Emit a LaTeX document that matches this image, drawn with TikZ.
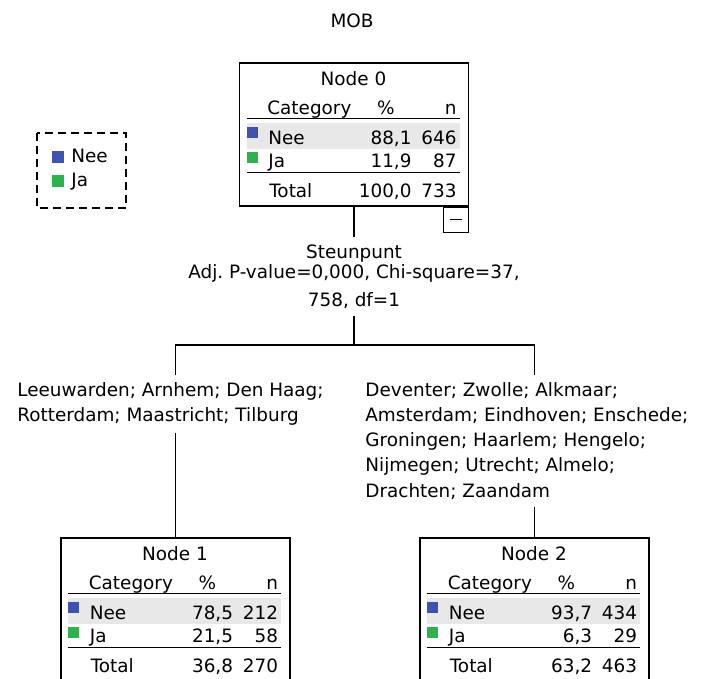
\documentclass[tikz,border=0pt]{standalone}
\usepackage{fontspec}
\setmainfont{DejaVu Sans}
\frenchspacing
\definecolor{neeblue}{RGB}{62,82,178}
\definecolor{jagreen}{RGB}{46,178,76}
\definecolor{rowgray}{RGB}{232,232,232}

\tikzset{
  txt/.style={font=\fontsize{9.2}{12.6}\selectfont, inner sep=0pt},
  catbox/.style={draw, line width=0.55pt, minimum width=114.5pt, minimum height=71.5pt, inner sep=0pt},
  togglebox/.style={draw, line width=0.55pt, minimum size=12.5pt, inner sep=0pt},
  rule/.style={line width=0.8pt},
  link/.style={line width=0.65pt},
  legendframe/.style={line width=0.7pt, dash pattern=on 4pt off 2.5pt},
}

% one tree node: name, centre, title, Nee %, Nee n, Ja %, Ja n, total %, total n
\newcommand{\mobnode}[9]{%
  \node[catbox] (#1) at #2 {};
  \begin{scope}[shift={(#1.north west)}]
    \fill[rowgray] (8,61) rectangle (221,87);
    \draw[rule] (8,56) -- (221,56);
    \draw[rule] (8,110) -- (221,110);
    \fill[neeblue] (8,65) rectangle (19,76);
    \fill[jagreen] (8,90) rectangle (19,101);
    \node[txt,anchor=base] (#1-title) at (114.5,23) {#3};
    \node[txt,anchor=base west] (#1-cat) at (28,52) {Category};
    \node[txt,anchor=base] (#1-pct) at (147,52) {\%};
    \node[txt,anchor=base east] (#1-n) at (218,52) {n};
    \node[txt,anchor=base west] (#1-nee) at (29,82) {Nee};
    \node[txt,anchor=base east] (#1-neepct) at (173,82) {#4};
    \node[txt,anchor=base east] (#1-neen) at (218,82) {#5};
    \node[txt,anchor=base west] (#1-ja) at (29,105) {Ja};
    \node[txt,anchor=base east] (#1-japct) at (173,105) {#6};
    \node[txt,anchor=base east] (#1-jan) at (218,105) {#7};
    \node[txt,anchor=base west] (#1-tot) at (30,135) {Total};
    \node[txt,anchor=base east] (#1-totpct) at (173,135) {#8};
    \node[txt,anchor=base east] (#1-totn) at (218,135) {#9};
  \end{scope}}

\begin{document}
\begin{tikzpicture}[x=0.5pt,y=-0.5pt]
\useasboundingbox (0,0) rectangle (704,678);

\node[txt,anchor=base] (title) at (352,28) {MOB};

% legend
\draw[legendframe] (37,133) rectangle (126,208);
\fill[neeblue] (52,151) rectangle (64,163);
\fill[jagreen] (52,175) rectangle (64,187);
\node[txt,anchor=base west] (leg-nee) at (71,163) {Nee};
\node[txt,anchor=base west] (leg-ja) at (71,187) {Ja};

% root node and its split
\mobnode{n0}{(354,134.5)}{Node 0}{88,1}{646}{11,9}{87}{100,0}{733}
\node[togglebox,anchor=north east] (toggle) at (n0.south east) {};
\draw[rule] ([xshift=-3.2pt]toggle.center) -- ([xshift=3.2pt]toggle.center);

\node[txt,align=center,anchor=north,inner sep=3.5pt] (split) at (354,237)
  {Steunpunt\\[-2.6pt]Adj. P-value=0,000, Chi-square=37,\\[1.4pt]758, df=1};

% child nodes
\mobnode{n1}{(175.5,609.5)}{Node 1}{78,5}{212}{21,5}{58}{36,8}{270}
\mobnode{n2}{(534.5,609.5)}{Node 2}{93,7}{434}{6,3}{29}{63,2}{463}

\node[txt,align=left,anchor=north west,inner xsep=0pt,inner ysep=3.5pt] (lbl1) at (17,375)
  {Leeuwarden; Arnhem; Den Haag;\\Rotterdam; Maastricht; Tilburg};
\node[txt,align=left,anchor=north west,inner xsep=0pt,inner ysep=3.5pt] (lbl2) at (365,375)
  {Deventer; Zwolle; Alkmaar;\\Amsterdam; Eindhoven; Enschede;\\Groningen; Haarlem; Hengelo;\\Nijmegen; Utrecht; Almelo;\\Drachten; Zaandam};

% connectors
\coordinate (fork) at (354,345);
\draw[link] (n0.south) -- (split.north);
\draw[link] (split.south) -- (fork);
\draw[link] (n1.north |- lbl1.north) |- (fork) -| (n2.north |- lbl2.north);
\draw[link] (n1.north |- lbl1.south) -- (n1.north);
\draw[link] (n2.north |- lbl2.south) -- (n2.north);
\end{tikzpicture}
\end{document}
